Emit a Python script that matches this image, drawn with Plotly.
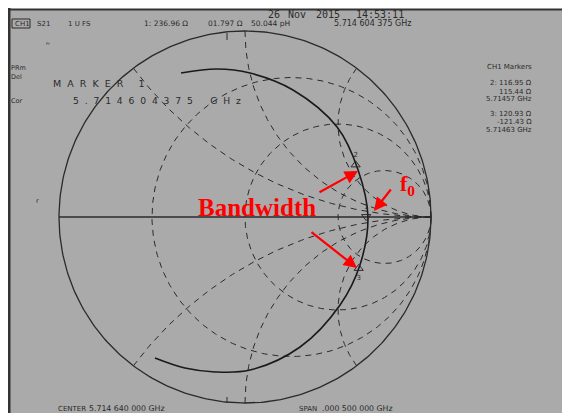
import numpy as np
import plotly.graph_objects as go

# ---------------- data ----------------
Z0 = 50.0
marker_ids = ["1", "2", "3"]
marker_R = [236.96, 116.95, 120.93]      # ohm
marker_X = [1.797, 115.44, -121.43]      # ohm

# S21 trace (reflection-plane coordinates)
trace_re = [-0.344, -0.151, 0.027, 0.258, 0.495, 0.608, 0.661, 0.618, 0.511, 0.296, 0.027, -0.161, -0.323, -0.484]
trace_im = [0.774, 0.796, 0.774, 0.683, 0.484, 0.253, 0.0, -0.258, -0.473, -0.699, -0.823, -0.833, -0.812, -0.758]

grid_r = [1 / 3, 1.0, 3.0]
grid_x = [0.5, 1.0, 2.0]

header_left = ["CH1", "S21", "1 U FS"]
header_marker = ["1: 236.96 \u03a9", "01.797 \u03a9", "50.044 pH"]
header_freq = "5.714 604 375 GHz"
date_words = ["26", "Nov", "2015", "14:53:11"]
right_lines = ["CH1 Markers", "2: 116.95 \u03a9", "115.44 \u03a9", "5.71457 GHz",
               "3: 120.93 \u03a9", "-121.43 \u03a9", "5.71463 GHz"]
center_text = ["CENTER", "5.714 640 000 GHz"]
span_text = ["SPAN", ".000 500 000 GHz"]

# ---------------- geometry helpers ----------------
# The page body adds an 8px margin; all layout positions below are given in
# screen pixels and converted to figure coordinates.
OFF = 8
W, H = 570, 413
CX, CY, RAD = 245.0 - OFF, 217.0 - OFF, 186.0   # chart centre / radius (figure px)
XR = [(0 - CX) / RAD, (W - CX) / RAD]
YR = [(CY - H) / RAD, (CY - 0) / RAD]

def px(x):
    return (x - OFF) / W

def py(y):
    return 1 - (y - OFF) / H

INK = "#2a2a2a"
fig = go.Figure()

# grid: constant-resistance circles
th = np.linspace(0, 2 * np.pi, 361)
for r in grid_r:
    c, rr = r / (1 + r), 1 / (1 + r)
    fig.add_trace(go.Scatter(x=c + rr * np.cos(th), y=rr * np.sin(th), mode="lines",
                             line=dict(color=INK, width=1, dash="6px,5px"),
                             hoverinfo="skip", showlegend=False))
# grid: constant-reactance arcs
t = np.concatenate([np.linspace(0, 1, 60), np.logspace(0, 3, 120)[1:]])
for xv in grid_x:
    for s in (1, -1):
        z = t + 1j * s * xv
        g = (z - 1) / (z + 1)
        fig.add_trace(go.Scatter(x=g.real, y=g.imag, mode="lines",
                                 line=dict(color=INK, width=1, dash="6px,5px"),
                                 hoverinfo="skip", showlegend=False))

# outer circle and real axis
fig.add_trace(go.Scatter(x=np.cos(th), y=np.sin(th), mode="lines",
                         line=dict(color=INK, width=1.3), hoverinfo="skip", showlegend=False))
fig.add_trace(go.Scatter(x=[-1, 1], y=[0, 0], mode="lines",
                         line=dict(color=INK, width=1.3), hoverinfo="skip", showlegend=False))

# measured trace
fig.add_trace(go.Scatter(x=trace_re, y=trace_im, mode="lines",
                         line=dict(color="#1a1a1a", width=1.6, shape="spline"),
                         hoverinfo="skip", showlegend=False))

# markers
zm = (np.array(marker_R) + 1j * np.array(marker_X)) / Z0
gm = (zm - 1) / (zm + 1)
fig.add_trace(go.Scatter(x=gm.real, y=gm.imag, mode="markers+text",
                         marker=dict(symbol=["triangle-down-open", "triangle-up-open", "triangle-up-open"],
                                     size=8, color=INK, line=dict(width=1)),
                         text=marker_ids, textposition=["top center", "top center", "bottom center"],
                         textfont=dict(size=7, color=INK, family="DejaVu Sans"),
                         hoverinfo="skip", showlegend=False))

# ---------------- background / frame ----------------
shapes = [
    dict(type="rect", xref="paper", yref="paper", x0=px(8), x1=px(575), y0=py(420), y1=py(9),
         fillcolor="#aaaaaa", line=dict(width=0), layer="below"),
    dict(type="line", xref="paper", yref="paper", x0=px(9), x1=px(9), y0=py(420), y1=py(8),
         line=dict(color="#333333", width=3)),
    dict(type="line", xref="paper", yref="paper", x0=px(8), x1=px(575), y0=py(9.5), y1=py(9.5),
         line=dict(color="#333333", width=2)),
    dict(type="rect", xref="paper", yref="paper", x0=px(12), x1=px(30), y0=py(28), y1=py(19),
         line=dict(color=INK, width=1)),
    # graticule ticks top and bottom
    dict(type="line", xref="paper", yref="paper", x0=px(227), x1=px(227), y0=py(33), y1=py(40),
         line=dict(color=INK, width=1)),
    dict(type="line", xref="paper", yref="paper", x0=px(227), x1=px(227), y0=py(397), y1=py(403),
         line=dict(color=INK, width=1)),
]

# red arrows
red = "#ff0000"
annotations = []
def arrow(x0, y0, x1, y1):
    annotations.append(dict(xref="paper", yref="paper", axref="pixel", ayref="pixel",
                            x=px(x1), y=py(y1), ax=x0 - x1, ay=y0 - y1, text="",
                            showarrow=True, arrowhead=2, arrowsize=1.2, arrowwidth=2.2,
                            arrowcolor=red))
arrow(318, 193, 358, 171)
arrow(310, 231, 357, 268)
arrow(392, 188, 374, 211)

def txt(x, y, s, size=7.5, anchor="left", color=INK, family="DejaVu Sans", bold=False):
    annotations.append(dict(xref="paper", yref="paper", x=px(x), y=py(y), text=("<b>%s</b>" % s) if bold else s,
                            showarrow=False, xanchor=anchor, yanchor="middle",
                            font=dict(size=size, color=color, family=family)))

MONO = "DejaVu Sans Mono"
txt(13, 23.5, header_left[0], 7)
txt(35, 24, header_left[1], 7)
txt(66, 24, header_left[2], 7)
txt(142, 24, header_marker[0], 7.5)
txt(206, 24, header_marker[1], 7.5)
txt(249, 24, header_marker[2], 7.5)
txt(332, 24, header_freq, 8)
txt(266, 14, date_words[0], 10, family=MONO)
txt(286, 14, date_words[1], 10, family=MONO)
txt(314, 14, date_words[2], 10, family=MONO)
txt(354, 14, date_words[3], 10, family=MONO)
txt(44, 44, "\u1d3e\u1da0", 6)
txt(9, 68, "PRm", 6.5)
txt(9, 77, "Del", 6.5)
txt(9, 101, "Cor", 6.5)
txt(34, 201, "r", 6.5)
txt(51, 83, "M&nbsp; A&nbsp; R&nbsp; K&nbsp; E&nbsp; R&nbsp; &nbsp; &nbsp;1", 9.5)
txt(71, 100, "5&nbsp; .&nbsp; 7&nbsp; 1&nbsp; 4&nbsp; 6&nbsp; 0&nbsp; 4&nbsp; 3&nbsp; 7&nbsp; 5&nbsp; &nbsp; &nbsp; G&nbsp; H&nbsp; z", 9.2)
txt(534, 67, right_lines[0], 7, "right")
txt(534, 83, right_lines[1], 7, "right")
txt(534, 91.5, right_lines[2], 7, "right")
txt(534, 99.5, right_lines[3], 7, "right")
txt(534, 114, right_lines[4], 7, "right")
txt(534, 122, right_lines[5], 7, "right")
txt(534, 130, right_lines[6], 7, "right")
txt(56, 408.5, center_text[0], 7)
txt(87, 408.5, center_text[1], 7.8)
txt(297, 408.5, span_text[0], 7)
txt(320, 408.5, span_text[1], 7.8)
txt(196, 208, "Bandwidth", 25, color=red, family="Liberation Serif", bold=True)
txt(398, 185, "f<sub>0</sub>", 22, color=red, family="Liberation Serif", bold=True)

fig.update_layout(
    width=W, height=H, margin=dict(l=0, r=0, t=0, b=0),
    paper_bgcolor="white", plot_bgcolor="rgba(0,0,0,0)",
    xaxis=dict(range=XR, visible=False, fixedrange=True),
    yaxis=dict(range=YR, visible=False, fixedrange=True),
    shapes=shapes, annotations=annotations, showlegend=False,
)
fig.write_html("out.html")
